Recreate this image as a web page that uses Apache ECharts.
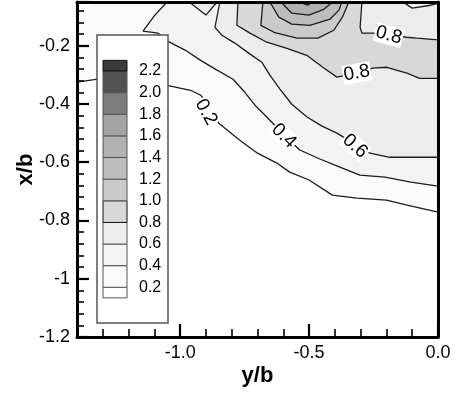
<!DOCTYPE html>
<html>
<head>
<meta charset="utf-8">
<script src="https://cdn.jsdelivr.net/npm/echarts@6/dist/echarts.min.js"></script>
<style>
  html, body { margin: 0; padding: 0; background: #fff; }
  #chart { width: 465px; height: 395px; }
</style>
</head>
<body>
<div id="chart"></div>
<script>
// contour levels and flood colours (band i lies between LEVELS[i-1] and LEVELS[i])
const LEVELS = [0.2, 0.4, 0.6, 0.8, 1.0, 1.2, 1.4, 1.6, 1.8, 2.0, 2.2]
const FILLS = ['#ffffff', '#fafafa', '#f3f3f3', '#ececec', '#d8d8d8', '#cacaca',
               '#bdbdbd', '#b1b1b1', '#a4a4a4', '#7c7c7c', '#525252', '#3a3a3a']

const X_MIN = -1.4, X_MAX = 0, Y_MIN = -1.2, Y_MAX = -0.05
const X_MAJOR = [-1.0, -0.5, 0.0]
const X_MINOR = [-1.3, -1.2, -1.1, -0.9, -0.8, -0.7, -0.6, -0.4, -0.3, -0.2, -0.1]
const Y_STEP = 0.2

// contour lines, [y/b, x/b]
const C02 = [[-1.4,-0.325],[-1.32,-0.315],[-1.2,-0.318],[-1.05,-0.336],[-0.96,-0.353],[-0.92,-0.37],
  [-0.88,-0.421],[-0.85,-0.466],[-0.77,-0.524],[-0.70,-0.569],[-0.625,-0.603],[-0.575,-0.634],
  [-0.50,-0.661],[-0.41,-0.713],[-0.315,-0.723],[-0.20,-0.73],[-0.12,-0.747],[0,-0.771]]
const C04 = [[-1.051,-0.05],[-1.098,-0.095],[-1.144,-0.15],[-1.086,-0.157],[-1.047,-0.185],
  [-0.981,-0.215],[-0.916,-0.253],[-0.857,-0.284],[-0.795,-0.315],[-0.749,-0.36],[-0.706,-0.408],
  [-0.664,-0.445],[-0.594,-0.51],[-0.536,-0.558],[-0.458,-0.589],[-0.40,-0.61],[-0.303,-0.644],
  [-0.206,-0.651],[-0.105,-0.668],[0,-0.682]]
const C06a = [[-0.965,-0.05],[-0.90,-0.095],[-0.857,-0.05]]
const C06b = [[-0.846,-0.05],[-0.865,-0.137],[-0.838,-0.164],[-0.788,-0.191],[-0.729,-0.229],
  [-0.683,-0.257],[-0.652,-0.301],[-0.613,-0.349],[-0.567,-0.401],[-0.508,-0.445],[-0.45,-0.476],
  [-0.392,-0.50],[-0.322,-0.538],[-0.264,-0.569],[-0.187,-0.583],[0,-0.583]]
const C06c = [[-0.136,-0.05],[-0.10,-0.071],[-0.035,-0.062],[0,-0.055]]
const C08a = [[-0.776,-0.05],[-0.78,-0.13],[-0.729,-0.157],[-0.664,-0.188],[-0.586,-0.209],
  [-0.509,-0.233],[-0.447,-0.274],[-0.392,-0.308],[-0.315,-0.294],[-0.253,-0.277],[-0.198,-0.274],
  [-0.121,-0.294],[-0.071,-0.312],[0,-0.312]]
const C08b = [[-0.295,-0.05],[-0.302,-0.137],[-0.295,-0.157],[-0.253,-0.157],[-0.19,-0.164],
  [-0.121,-0.171],[-0.082,-0.174],[0,-0.18]]
const C10 = [[-0.679,-0.05],[-0.687,-0.13],[-0.636,-0.154],[-0.547,-0.174],[-0.466,-0.174],
  [-0.404,-0.147],[-0.369,-0.099],[-0.346,-0.05]]
const C12 = [[-0.652,-0.05],[-0.617,-0.102],[-0.567,-0.126],[-0.497,-0.13],[-0.419,-0.109],
  [-0.384,-0.078],[-0.373,-0.05]]
const C14 = [[-0.609,-0.05],[-0.567,-0.0885],[-0.501,-0.0954],[-0.443,-0.075],[-0.408,-0.05]]
const C16 = [[-0.543,-0.05],[-0.505,-0.061],[-0.485,-0.05]]

const CONTOURS = [C02, C04, C06a, C06b, C06c, C08a, C08b, C10, C12, C14, C16]

// contour labels
const LABEL_TEXT = ['0.2', '0.4', '0.6', '0.8', '0.8']
const LABEL_AT = [[-0.900,-0.428],[-0.598,-0.510],[-0.322,-0.545],[-0.315,-0.294],[-0.191,-0.164]]
const LABEL_ROT = [-61, -45, -42, 10, -15]

const FONT = '"Liberation Sans", Arial, Helvetica, sans-serif'

// flood layers painted in order: [line, band, corners used to close it]
const TR = [X_MAX, Y_MAX], TL = [X_MIN, Y_MAX]
const LAYERS = [
  [C02, 1, [TR, TL]],
  [C04, 2, [TR]],
  [C06b, 3, [TR]],
  [C06a, 3, []],
  [C08a, 4, [TR]],
  [C08b, 3, [TR]],
  [C06c, 2, [TR]],
  [C10, 5, []],
  [C12, 6, []],
  [C14, 7, []],
  [C16, 8, []],
]

// legend (colour bar) geometry
const LG = { x: 97, y: 35, w: 71, h: 288, sx: 103, sw: 24, base: 287.3, step: 21.63, half: 10.6, tx: 139 }
const legendY = i => LG.base - i * LG.step
const legend = [{
  type: 'rect', z: 100, shape: { x: LG.x, y: LG.y, width: LG.w, height: LG.h },
  style: { fill: '#fff', stroke: '#555', lineWidth: 1.5 }
}]
FILLS.forEach((c, b) => {
  const bottom = b === 0 ? legendY(0) + LG.half : legendY(b - 1)
  const top = b === FILLS.length - 1 ? legendY(b - 1) - LG.half : legendY(b)
  legend.push({
    type: 'rect', z: 101, shape: { x: LG.sx, y: top, width: LG.sw, height: bottom - top },
    style: { fill: c, stroke: (b === 4 || b === 11) ? '#111' : '#555', lineWidth: 1 }
  })
})
LEVELS.forEach((v, i) => {
  legend.push({
    type: 'text', z: 101, x: LG.tx, y: legendY(i),
    style: { text: v.toFixed(1), font: '16px ' + FONT, fill: '#000', align: 'left', verticalAlign: 'middle' }
  })
})

const chart = echarts.init(document.getElementById('chart'), null, { renderer: 'canvas' })

const baseAxis = {
  type: 'value', z: 10, splitLine: { show: false },
  axisLine: { show: false }, axisTick: { show: false }, axisLabel: { show: false }
}
const frameLine = { show: true, onZero: false, lineStyle: { color: '#000', width: 3 } }

const lineSeries = CONTOURS.map(c => ({
  type: 'line', data: c, showSymbol: false, silent: true, z: 3, clip: true,
  lineStyle: { color: '#1c1c1c', width: 1.3 }
}))

chart.setOption({
  animation: false,
  backgroundColor: '#fff',
  grid: { left: 77, right: 27, top: 2, bottom: 58, show: true, backgroundColor: '#fff', borderWidth: 0 },
  graphic: { elements: legend },
  xAxis: [
    { ...baseAxis, position: 'bottom', min: X_MIN, max: X_MAX,
      name: 'y/b', nameLocation: 'middle', nameGap: 28, nameMoveOverlap: false,
      nameTextStyle: { fontFamily: FONT, fontSize: 22, fontWeight: 'bold', color: '#000' },
      axisLine: frameLine,
      axisTick: { show: true, inside: true, length: 13, customValues: X_MAJOR, lineStyle: { color: '#000', width: 2.2 } },
      axisLabel: { show: true, customValues: X_MAJOR, margin: 7, formatter: v => v.toFixed(1),
        fontFamily: FONT, fontSize: 18, color: '#000' } },
    { ...baseAxis, position: 'bottom', min: X_MIN, max: X_MAX,
      axisTick: { show: true, inside: true, length: 8, customValues: X_MINOR, lineStyle: { color: '#000', width: 1.6 } } },
    { ...baseAxis, position: 'top', min: X_MIN, max: X_MAX, axisLine: frameLine }
  ],
  yAxis: [
    { ...baseAxis, position: 'left', min: Y_MIN, max: Y_MAX, interval: Y_STEP,
      name: 'x/b', nameLocation: 'middle', nameGap: 40, nameMoveOverlap: false,
      nameTextStyle: { fontFamily: FONT, fontSize: 22, fontWeight: 'bold', color: '#000' },
      axisLine: frameLine,
      axisTick: { show: true, inside: true, length: 12, lineStyle: { color: '#000', width: 2.2 } },
      minorTick: { show: true, splitNumber: 5, length: 7, lineStyle: { color: '#000', width: 1.6 } },
      axisLabel: { show: true, margin: 7, showMaxLabel: false,
        formatter: v => (Math.abs(v / Y_STEP - Math.round(v / Y_STEP)) < 1e-6 ? String(+v.toFixed(2)) : ''),
        fontFamily: FONT, fontSize: 18, color: '#000' } },
    { ...baseAxis, position: 'right', min: Y_MIN, max: Y_MAX, axisLine: frameLine }
  ],
  series: [
    {
      type: 'custom', silent: true, z: 1, clip: true,
      data: LAYERS.map(l => l[0][0]),
      renderItem: (params, api) => {
        const [line, band, corners] = LAYERS[params.dataIndex]
        const pts = line.concat(corners).map(p => api.coord(p))
        return { type: 'polygon', shape: { points: pts }, style: { fill: FILLS[band], stroke: null } }
      }
    },
    ...lineSeries,
    {
      type: 'custom', silent: true, z: 5, clip: false,
      data: LABEL_AT,
      renderItem: (params, api) => {
        const i = params.dataIndex
        const p = api.coord(LABEL_AT[i])
        return {
          type: 'text', x: p[0], y: p[1], rotation: LABEL_ROT[i] * Math.PI / 180,
          style: { text: LABEL_TEXT[i], font: '19px ' + FONT, fill: '#000', align: 'center',
            verticalAlign: 'middle', backgroundColor: '#fff', padding: [0, 1] }
        }
      }
    }
  ]
})
</script>
</body>
</html>
